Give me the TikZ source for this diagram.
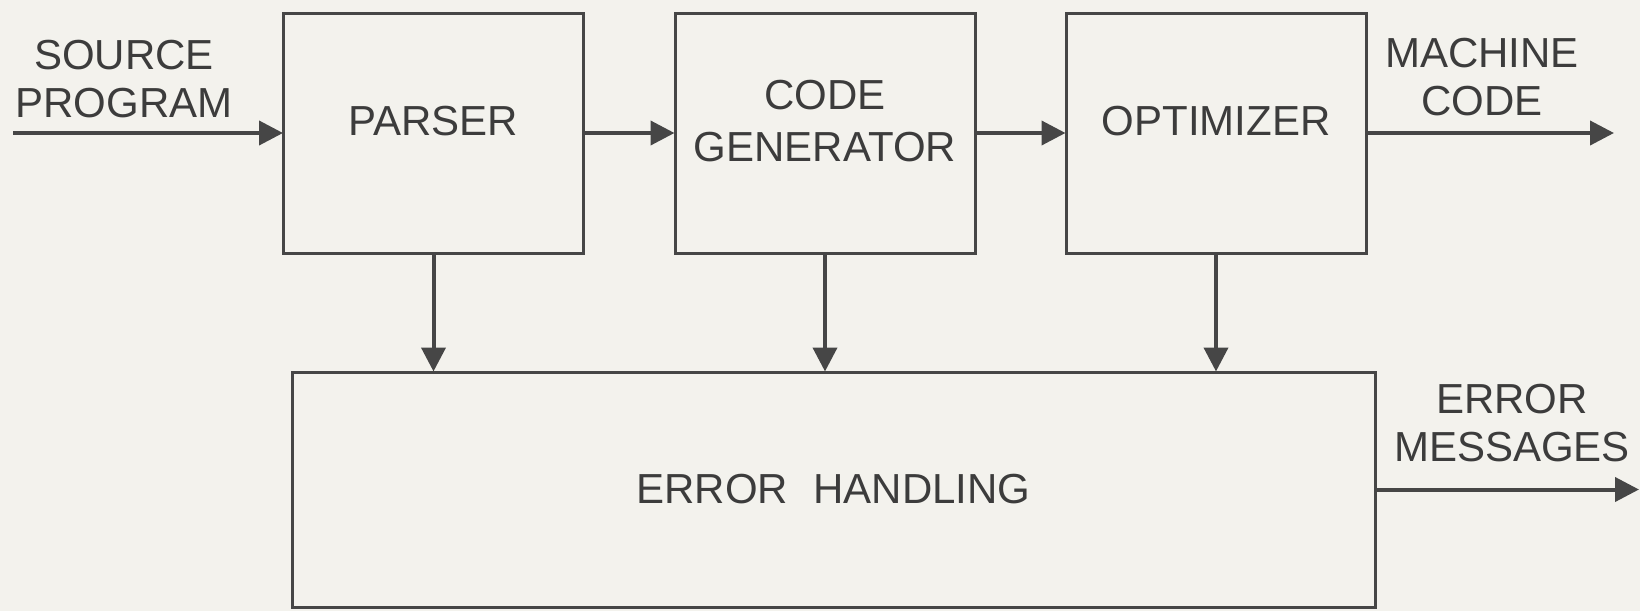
\documentclass[tikz,border=0pt]{standalone}
\usepackage{fontspec}
\setmainfont{Liberation Sans}
\usetikzlibrary{arrows.meta}
\definecolor{bgc}{RGB}{243,242,237}
\definecolor{ink}{RGB}{70,70,70}
\definecolor{txt}{RGB}{60,60,60}
\begin{document}
\begin{tikzpicture}[x=0.5pt,y=-0.5pt,
  lbl/.style={text=txt,align=center,inner sep=0pt,font=\fontsize{21pt}{24pt}\selectfont},
  blk/.style={draw=ink,line width=1.5pt,minimum width=150pt,minimum height=120pt,
    text=txt,align=center,inner sep=0pt,text depth=12pt,font=\fontsize{21pt}{26pt}\selectfont},
  errblk/.style={draw=ink,line width=1.5pt,minimum width=541.5pt,minimum height=117.5pt,
    text=txt,inner sep=0pt,font=\fontsize{21pt}{24pt}\selectfont},
  arr/.style={draw=ink,line width=2pt,-{Triangle[length=12pt,width=12pt]},shorten >=-0.5pt}]
\fill[bgc] (0,0) rectangle (1640,611);
\useasboundingbox (0,0) rectangle (1640,611);
% blocks
\node[blk] (p) at (433.5,133) {PARSER};
\node[blk] (g) at (825,133) {CODE\\GENERATOR};
\node[blk] (o) at (1216,133) {OPTIMIZER};
\node[errblk] (e) at (833.5,489.5) {ERROR\hspace{0.6em}HANDLING};
% labels
\node[lbl] (srcl) at (124,79) {SOURCE\\PROGRAM};
\node[lbl] (mcl) at (1482,77.5) {MACHINE\\CODE};
\node[lbl] (eml) at (1512,423) {ERROR\\MESSAGES};
% free ends
\coordinate (in) at (13,133);
\coordinate (out) at (1613,133);
\coordinate (eout) at (1638,489.5);
% connectors
\draw[arr] (in) -- (p.west);
\draw[arr] (p.east) -- (g.west);
\draw[arr] (g.east) -- (o.west);
\draw[arr] (o.east) -- (out);
\draw[arr] (p.south) -- (p.south |- e.north);
\draw[arr] (g.south) -- (g.south |- e.north);
\draw[arr] (o.south) -- (o.south |- e.north);
\draw[arr] (e.east) -- (eout);
\end{tikzpicture}
\end{document}
